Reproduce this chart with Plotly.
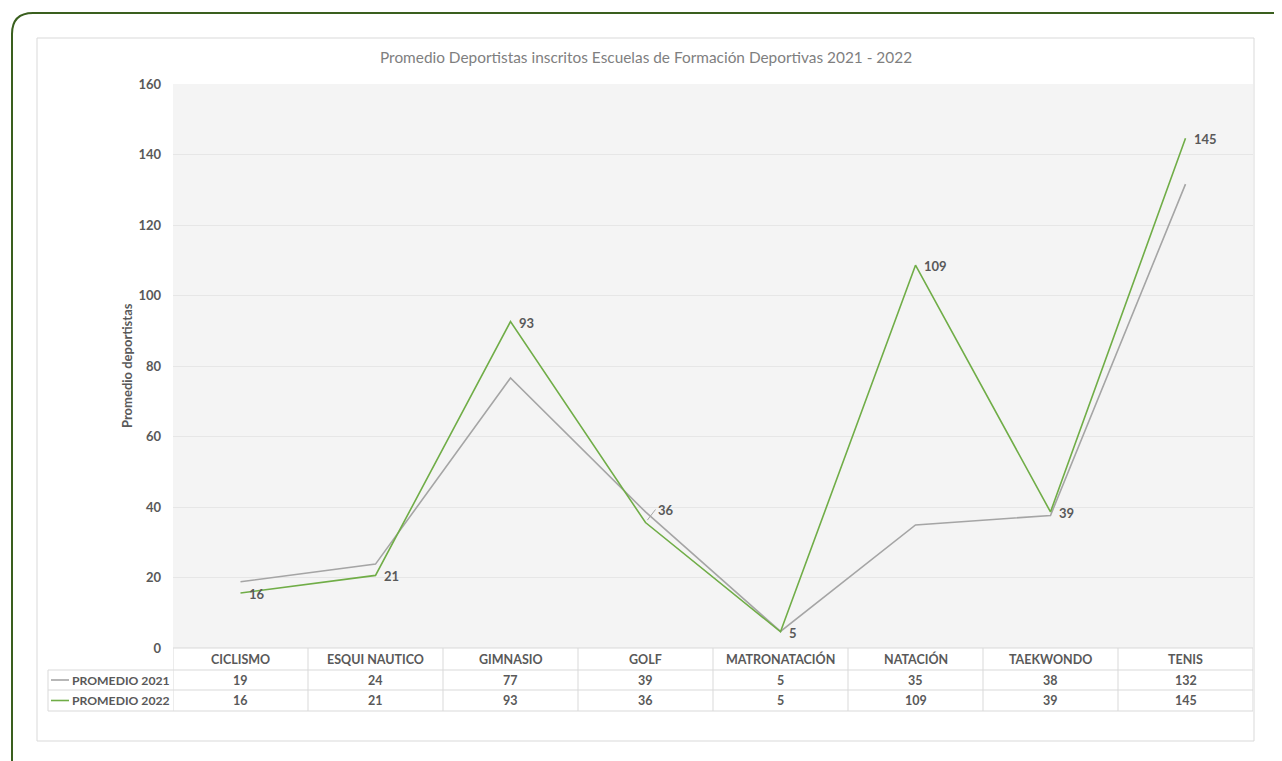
import plotly.graph_objects as go

# ---------------- data ----------------
categories = ["CICLISMO", "ESQUI NAUTICO", "GIMNASIO", "GOLF", "MATRONATACIÓN",
              "NATACIÓN", "TAEKWONDO", "TENIS"]
promedio_2021 = [18.8, 23.8, 76.6, 38.6, 4.7, 34.9, 37.6, 131.6]
promedio_2022 = [15.6, 20.6, 92.6, 35.6, 4.6, 108.6, 38.6, 144.6]
series_names = ["PROMEDIO 2021", "PROMEDIO 2022"]
y_ticks = [0, 20, 40, 60, 80, 100, 120, 140, 160]
title_text = "Promedio Deportistas inscritos Escuelas de Formación Deportivas 2021 - 2022"
y_title = "Promedio deportistas"

# ---------------- styling ----------------
OFF = 8                      # page body margin in the browser
W, H = 1282 - OFF, 761 - OFF
PX0, PX1, PY0, PY1 = 173, 1253, 84, 648   # plot area in page pixels
L, R, T, B = PX0 - OFF, 1282 - PX1, PY0 - OFF, 761 - PY1
PW, PH = PX1 - PX0, PY1 - PY0
FONT = "Lato"
GRAY_TXT = "#595959"
C2021 = "#a5a5a5"
C2022 = "#70ad47"
BORDER = "#d9d9d9"


def px(xp):
    return (xp - PX0) / PW


def py(yp):
    return (PY1 - yp) / PH


idx = list(range(len(categories)))

fig = go.Figure()
fig.add_trace(go.Scatter(
    x=idx, y=promedio_2021, mode="lines", name=series_names[0],
    line=dict(color=C2021, width=1.6), hoverinfo="x+y"))
fig.add_trace(go.Scatter(
    x=idx, y=promedio_2022, mode="lines", name=series_names[1],
    line=dict(color=C2022, width=1.6), hoverinfo="x+y"))

shapes = []
annotations = []

# data labels for 2022 series
for i, v in enumerate(promedio_2022):
    lab = dict(x=i, y=v, xref="x", yref="y", text=f"{v:.0f}",
               xanchor="left", yanchor="middle",
               font=dict(family=FONT, size=13, color=GRAY_TXT, weight="bold"))
    if categories[i] == "GOLF":
        lab.update(showarrow=True, ax=10, ay=-13, arrowhead=0, arrowwidth=1,
                   arrowcolor="#a5a5a5", standoff=3)
    else:
        lab.update(showarrow=False, xshift=6, yshift=-1)
    annotations.append(lab)

# outer rounded green frame
shapes.append(dict(
    type="path", xref="paper", yref="paper",
    path=(f"M {px(12)},{py(800)} L {px(12)},{py(34)} "
          f"Q {px(12)},{py(13)} {px(33)},{py(13)} L {px(1320)},{py(13)}"),
    line=dict(color="#3a5f1e", width=2)))
# inner chart frame
shapes.append(dict(type="rect", xref="paper", yref="paper",
                   x0=px(37), x1=px(1254), y0=py(741), y1=py(38),
                   line=dict(color=BORDER, width=1), layer="below"))

# data table
row_y = [648, 670, 690, 711]
for yy in row_y[1:]:
    shapes.append(dict(type="line", xref="paper", yref="paper",
                       x0=px(48), x1=px(1253), y0=py(yy), y1=py(yy),
                       line=dict(color=BORDER, width=1)))
shapes.append(dict(type="line", xref="paper", yref="paper",
                   x0=px(173), x1=px(1253), y0=py(648), y1=py(648),
                   line=dict(color=BORDER, width=1)))
shapes.append(dict(type="line", xref="paper", yref="paper",
                   x0=px(48), x1=px(48), y0=py(670), y1=py(711),
                   line=dict(color=BORDER, width=1)))
for k in range(len(categories) + 1):
    shapes.append(dict(type="line", xref="x", yref="paper",
                       x0=k - 0.5, x1=k - 0.5, y0=py(648), y1=py(711),
                       line=dict(color=BORDER, width=1)))


def row_center(i):
    return py((row_y[i] + row_y[i + 1]) / 2)


TFONT = dict(family=FONT, size=12.5, color=GRAY_TXT, weight="bold")
LFONT = dict(family=FONT, size=12.2, color=GRAY_TXT, weight="bold")
for i, c in enumerate(categories):
    annotations.append(dict(x=i, y=row_center(0), xref="x", yref="paper",
                            xanchor="center", yanchor="middle",
                            text=c, showarrow=False, font=TFONT))
    for r, vals in enumerate([promedio_2021, promedio_2022]):
        annotations.append(dict(x=i, y=row_center(r + 1), xref="x", yref="paper",
                                xanchor="center", yanchor="middle",
                                text=f"{vals[i]:.0f}", showarrow=False, font=TFONT))

for r, (nm, col) in enumerate(zip(series_names, [C2021, C2022])):
    shapes.append(dict(type="line", xref="paper", yref="paper",
                       x0=px(51), x1=px(69), y0=row_center(r + 1), y1=row_center(r + 1),
                       line=dict(color=col, width=1.6)))
    annotations.append(dict(x=px(70), y=row_center(r + 1), xref="paper", yref="paper",
                            xanchor="left", yanchor="middle", text=nm, showarrow=False,
                            font=LFONT))

# title and y-axis title
annotations.append(dict(x=px(645.5), y=py(57), xref="paper", yref="paper",
                        xanchor="center", yanchor="middle",
                        text=title_text, showarrow=False,
                        font=dict(family=FONT, size=15.4, color="#7f7f7f")))
annotations.append(dict(x=px(127), y=py(366), xref="paper", yref="paper",
                        xanchor="center", yanchor="middle",
                        text=y_title, textangle=-90, showarrow=False,
                        font=dict(family=FONT, size=13, color=GRAY_TXT, weight="bold")))

fig.update_layout(
    width=W, height=H,
    margin=dict(l=L, r=R, t=T, b=B, autoexpand=False),
    paper_bgcolor="white",
    plot_bgcolor="#f4f4f4",
    showlegend=False,
    shapes=shapes,
    annotations=annotations,
    font=dict(family=FONT, color=GRAY_TXT),
)
fig.update_xaxes(range=[-0.5, len(categories) - 0.5], showticklabels=False,
                 showgrid=False, zeroline=False, showline=False, fixedrange=True)
fig.update_yaxes(range=[0, 160], tickvals=y_ticks, showgrid=True, gridcolor="#e6e6e6",
                 zeroline=False, showline=False, ticklabelstandoff=11,
                 tickfont=dict(family=FONT, size=13, color=GRAY_TXT, weight="bold"),
                 fixedrange=True)

fig.write_html("out.html")
